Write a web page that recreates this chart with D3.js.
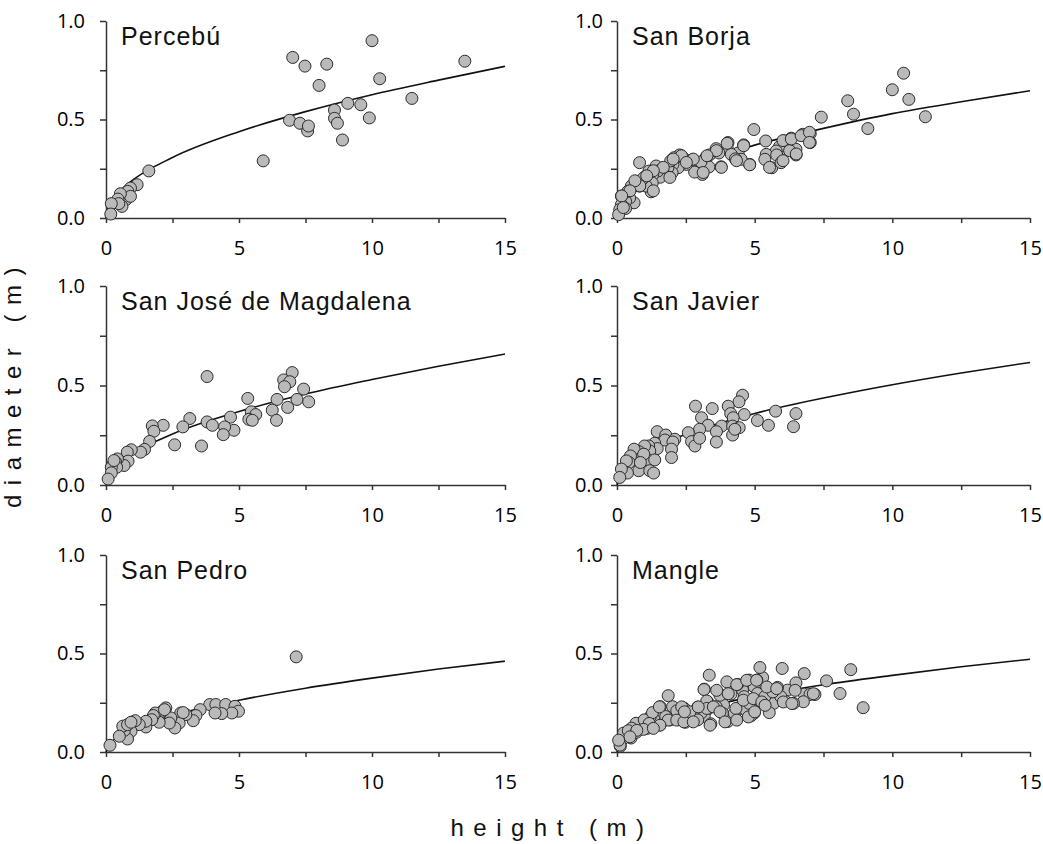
<!DOCTYPE html>
<html>
<head>
<meta charset="utf-8">
<script src="https://cdn.jsdelivr.net/npm/d3@7"></script>
<style>
  body { margin: 0; background: #fff; }
  svg { display: block; }
</style>
</head>
<body>
<script>
// site names, in panel order (row by row)
const sites = ["Percebú", "San Borja", "San José de Magdalena", "San Javier", "San Pedro", "Mangle"];

// measured trees: [height (m), diameter (m)]
const percebu = [[10.0,0.90],[7.02,0.815],[7.48,0.771],[8.30,0.781],[8.01,0.673],[10.29,0.707],[13.49,0.796],
  [11.50,0.607],[9.09,0.582],[9.58,0.575],[8.59,0.548],[9.90,0.508],[8.59,0.506],[8.70,0.481],[6.90,0.496],
  [7.29,0.481],[7.58,0.442],[7.61,0.467],[8.89,0.396],[5.91,0.290],[1.61,0.239],[1.17,0.169],[0.92,0.152],
  [0.82,0.135],[0.75,0.093],[0.92,0.110],[0.54,0.123],[0.45,0.096],[0.60,0.059],[0.48,0.073],[0.20,0.073],[0.18,0.020]];

const sanBorja = [[10.41,0.735],[10.0,0.651],[10.6,0.602],[8.38,0.595],[8.59,0.527],[11.2,0.514],[9.11,0.454],
  [7.42,0.512],[4.97,0.449],[7.02,0.429],[7.02,0.383],[6.75,0.425],[6.33,0.405],[6.08,0.391],[6.5,0.349],
  [6.5,0.320],[6.17,0.344],[5.4,0.391],[5.9,0.362],[5.78,0.340],[5.62,0.255],[5.42,0.323],[5.37,0.298],
  [5.8,0.320],[5.96,0.281],[4.6,0.371],[4.82,0.272],[4.40,0.330],[4.51,0.298],[4.03,0.383],[4.0,0.357],
  [4.15,0.323],[3.6,0.352],[3.78,0.260],[3.36,0.320],[3.24,0.310],[3.34,0.259],[3.1,0.221],[2.78,0.294],
  [2.82,0.233],[2.52,0.272],[2.34,0.315],[2.27,0.320],[2.07,0.306],[2.22,0.255],[2.03,0.272],[2.0,0.230],
  [1.85,0.255],[1.67,0.235],[1.57,0.207],[1.42,0.264],[1.48,0.238],[1.3,0.221],[1.16,0.238],[1.04,0.212],
  [0.82,0.281],[1.28,0.178],[1.24,0.133],[1.06,0.162],[0.82,0.162],[0.7,0.178],[0.52,0.162],[0.62,0.077],
  [0.46,0.102],[0.31,0.085],[0.16,0.111],[0.16,0.068],[0.31,0.048],[0.1,0.043],[0.06,0.017],[0.4,0.136],
  [0.86,0.187],[0.97,0.204],[2.45,0.300],[1.95,0.290],[3.05,0.285],[3.7,0.330],[4.3,0.300],
  [4.0,0.379],[4.6,0.367],[3.61,0.342],[3.27,0.316],[2.77,0.299],[2.34,0.316],[2.04,0.299],[1.68,0.257],
  [1.32,0.240],[1.08,0.214],[0.83,0.163],[0.65,0.189],[0.47,0.138],[0.17,0.112],[0.23,0.053],[1.32,0.138],
  [1.92,0.206],[2.52,0.282],[3.13,0.231],[3.79,0.257],[4.34,0.291],[4.82,0.270],[5.54,0.257],[6.03,0.291],
  [6.27,0.342],[6.51,0.325],[6.03,0.393],[6.33,0.401],[6.69,0.418],[6.99,0.435],[6.99,0.384]];

const sanJose = [[3.80,0.545],[7.0,0.565],[6.68,0.528],[6.91,0.519],[6.71,0.494],[7.43,0.482],[7.18,0.43],
  [7.62,0.418],[6.83,0.39],[6.43,0.43],[6.25,0.376],[6.41,0.325],[5.33,0.435],[5.46,0.368],[5.63,0.354],
  [5.37,0.33],[5.5,0.325],[4.68,0.341],[4.81,0.275],[4.46,0.292],[4.41,0.253],[3.80,0.317],[4.0,0.300],
  [3.59,0.196],[3.15,0.334],[2.89,0.292],[2.58,0.202],[2.15,0.30],[1.74,0.297],[1.8,0.27],[1.64,0.219],
  [1.45,0.179],[1.3,0.165],[0.95,0.177],[0.8,0.165],[0.83,0.12],[0.68,0.098],[0.43,0.131],[0.36,0.115],
  [0.28,0.106],[0.4,0.089],[0.2,0.089],[0.2,0.061],[0.08,0.030],[0.3,0.123]];

const sanJavier = [[4.56,0.451],[4.43,0.418],[4.04,0.396],[2.85,0.396],[3.46,0.384],[4.13,0.359],[4.62,0.354],
  [5.76,0.371],[6.5,0.359],[6.41,0.293],[5.5,0.30],[5.1,0.324],[4.22,0.338],[3.07,0.338],[3.31,0.30],
  [3.0,0.28],[3.8,0.296],[3.61,0.268],[3.61,0.216],[4.2,0.296],[4.44,0.288],[4.2,0.251],[4.28,0.28],
  [2.59,0.263],[2.71,0.218],[2.83,0.196],[3.0,0.235],[1.46,0.268],[1.77,0.251],[1.74,0.226],[2.1,0.230],
  [2.03,0.216],[1.37,0.21],[1.46,0.183],[1.98,0.18],[1.98,0.138],[1.15,0.196],[1.19,0.171],[1.0,0.196],
  [0.79,0.168],[0.62,0.18],[0.79,0.072],[1.13,0.126],[1.37,0.126],[1.19,0.072],[1.33,0.06],[0.68,0.126],
  [0.49,0.146],[0.44,0.113],[0.34,0.121],[0.22,0.063],[0.38,0.06],[0.16,0.08],[0.1,0.038],[0.97,0.155],[0.85,0.113]];

const sanPedro = [[7.15,0.483],[3.9,0.241],[4.13,0.241],[4.5,0.241],[4.85,0.232],[4.98,0.207],[4.73,0.198],
  [4.35,0.195],[4.1,0.198],[3.54,0.215],[3.38,0.185],[3.28,0.159],[3.0,0.19],[2.81,0.198],[2.75,0.147],
  [2.59,0.122],[2.44,0.173],[2.38,0.147],[2.25,0.224],[2.12,0.207],[2.0,0.151],[1.85,0.198],[1.78,0.185],
  [1.72,0.164],[1.5,0.127],[1.5,0.156],[1.25,0.139],[1.1,0.159],[0.94,0.105],[0.81,0.066],[0.69,0.11],
  [0.63,0.131],[0.81,0.139],[0.5,0.08],[0.15,0.034],[0.94,0.151],[2.2,0.215],[2.9,0.2]];

const mangle = [[8.49,0.418],[8.94,0.225],[7.61,0.361],[8.1,0.297],[7.19,0.292],[6.8,0.398],[6.8,0.294],
  [7.01,0.292],[6.77,0.255],[6.5,0.351],[6.41,0.247],[6.19,0.314],[6.0,0.424],[6.1,0.259],[5.71,0.306],
  [5.83,0.328],[5.69,0.247],[5.53,0.2],[5.47,0.323],[5.29,0.378],[5.19,0.429],[5.08,0.365],[4.8,0.365],
  [4.98,0.331],[5.1,0.297],[5.18,0.26],[4.98,0.197],[4.86,0.183],[4.56,0.314],[4.62,0.281],[4.52,0.235],
  [4.38,0.343],[4.38,0.213],[3.99,0.356],[4.14,0.294],[3.77,0.289],[3.87,0.239],[4.02,0.155],[3.83,0.197],
  [3.35,0.39],[3.17,0.319],[3.29,0.255],[3.29,0.217],[3.17,0.18],[3.41,0.143],[3.05,0.197],[2.93,0.227],
  [2.75,0.197],[2.44,0.222],[2.48,0.151],[2.18,0.2],[2.02,0.23],[1.86,0.286],[1.94,0.163],[1.57,0.23],
  [1.57,0.188],[1.57,0.138],[1.35,0.163],[1.21,0.18],[1.14,0.146],[0.93,0.129],[0.75,0.121],[0.87,0.146],
  [0.69,0.146],[0.53,0.121],[0.51,0.071],[0.33,0.087],[0.21,0.066],[0.12,0.029],[0.24,0.096],[0.41,0.108],
  [0.99,0.163],[1.29,0.2],[1.77,0.18],[2.32,0.163],[2.69,0.166],[2.93,0.163],[4.68,0.213],[4.26,0.197],
  [4.8,0.247],[5.37,0.281],[5.95,0.281],[3.6,0.23],[2.6,0.18],[1.1,0.12],[0.7,0.1],
  [4.35,0.342],[4.71,0.364],[5.07,0.364],[3.16,0.317],[3.74,0.288],[4.04,0.296],[3.26,0.259],[3.26,0.221],
  [1.54,0.229],[2.17,0.209],[2.35,0.229],[2.65,0.204],[2.95,0.229],[3.5,0.229],[3.74,0.204],[4.32,0.221],
  [4.59,0.263],[4.95,0.271],[5.26,0.254],[5.66,0.305],[6.04,0.254],[6.35,0.246],[1.17,0.145],[0.96,0.115],
  [0.72,0.110],[0.47,0.077],[1.86,0.162],[2.17,0.162],[2.43,0.153],[2.77,0.153],[3.38,0.136],[3.92,0.153],
  [4.35,0.162],[4.77,0.178],[5.0,0.204],[5.38,0.237],[1.56,0.136],[1.32,0.120],[2.45,0.204],[3.62,0.313],
  [5.44,0.330],[5.8,0.322],[6.47,0.313],[7.13,0.296],[0.11,0.035],[0.06,0.060]];

// fitted curves at these heights
const fitX = [0, 0.1, 0.25, 0.5, 1, 2.5, 5, 7.5, 10, 12.5, 15];
const fitPercebu   = [0, 0.059, 0.094, 0.134, 0.192, 0.307, 0.438, 0.540, 0.626, 0.700, 0.770];
const fitSanBorja  = [0, 0.051, 0.081, 0.115, 0.164, 0.260, 0.370, 0.455, 0.530, 0.590, 0.646];
const fitSanJose   = [0, 0.047, 0.076, 0.110, 0.158, 0.256, 0.369, 0.457, 0.530, 0.597, 0.658];
const fitSanJavier = [0, 0.053, 0.083, 0.116, 0.163, 0.255, 0.359, 0.437, 0.504, 0.563, 0.616];
const fitSanPedro  = [0, 0.036, 0.057, 0.081, 0.116, 0.185, 0.263, 0.324, 0.375, 0.421, 0.461];
const fitMangle    = [0, 0.045, 0.069, 0.096, 0.132, 0.203, 0.281, 0.341, 0.389, 0.433, 0.471];

const xTicks = [0, 2.5, 5, 7.5, 10, 12.5, 15];
const yTicks = [0, 0.25, 0.5, 0.75, 1];

const points = [percebu, sanBorja, sanJose, sanJavier, sanPedro, mangle];
const fits = [fitPercebu, fitSanBorja, fitSanJose, fitSanJavier, fitSanPedro, fitMangle];

// panel frame: columns and rows in pixels
const cols = [{x0: 106, x1: 505, pad: 15}, {x0: 617, x1: 1030, pad: 8}];
const rows = [{y0: 218, y1: 21}, {y0: 485, y1: 286}, {y0: 752, y1: 555}];

const svg = d3.select("body").append("svg")
    .attr("width", 1043)
    .attr("height", 844);

sites.forEach(function(name, i) {
    let c = cols[i % 2], r = rows[Math.floor(i / 2)];

    let x = d3.scaleLinear().domain([0, 15]).range([c.x0, c.x1]);
    let y = d3.scaleLinear().domain([0, 1]).range([r.y0, r.y1]);

    let g = svg.append("g");

    // x axis
    let gx = g.append("g")
        .attr("transform", "translate(0," + r.y0 + ")")
        .call(d3.axisBottom(x)
            .tickValues(xTicks)
            .tickSize(5)
            .tickSizeOuter(0)
            .tickPadding(18)
            .tickFormat(d => d % 5 === 0 ? d : ""));

    // y axis
    let gy = g.append("g")
        .attr("transform", "translate(" + c.x0 + ",0)")
        .call(d3.axisLeft(y)
            .tickValues(yTicks)
            .tickSize(6)
            .tickSizeOuter(0)
            .tickPadding(c.pad)
            .tickFormat(d => d % 0.5 === 0 ? d3.format(".1f")(d) : ""));

    [gx, gy].forEach(function(a) {
        a.select(".domain").attr("stroke", "#333").attr("stroke-width", 1.5);
        a.selectAll(".tick line").attr("stroke", "#333").attr("stroke-width", 1.5);
        a.selectAll(".tick text")
            .attr("fill", "#000")
            .style("font-family", "'Open Sans', sans-serif")
            .style("font-size", "20px");
    });

    // fitted line
    g.append("path")
        .datum(fitX.map((h, k) => [h, fits[i][k]]))
        .attr("fill", "none")
        .attr("stroke", "#111")
        .attr("stroke-width", 1.6)
        .attr("d", d3.line()
            .curve(d3.curveMonotoneX)
            .x(d => x(d[0]))
            .y(d => y(d[1])));

    // trees
    g.selectAll("circle")
        .data(points[i])
        .join("circle")
        .attr("cx", d => x(d[0]))
        .attr("cy", d => y(d[1]))
        .attr("r", 6)
        .attr("fill", "#bababa")
        .attr("stroke", "#2b2b2b")
        .attr("stroke-width", 1);

    // site name
    g.append("text")
        .attr("x", c.x0 + 15)
        .attr("y", r.y1 + 24)
        .attr("fill", "#111")
        .style("font-family", "'Liberation Sans', Arial, sans-serif")
        .style("font-size", "25px")
        .style("letter-spacing", "1px")
        .text(name);
});

// axis titles
svg.append("text")
    .attr("x", 552)
    .attr("y", 836)
    .attr("text-anchor", "middle")
    .attr("fill", "#111")
    .style("font-family", "'Liberation Sans', Arial, sans-serif")
    .style("font-size", "24px")
    .style("letter-spacing", "9.5px")
    .text("height (m)");

svg.append("text")
    .attr("transform", "translate(21,383) rotate(-90)")
    .attr("text-anchor", "middle")
    .attr("fill", "#111")
    .style("font-family", "'Liberation Sans', Arial, sans-serif")
    .style("font-size", "24px")
    .style("letter-spacing", "9.5px")
    .text("diameter (m)");
</script>
</body>
</html>
